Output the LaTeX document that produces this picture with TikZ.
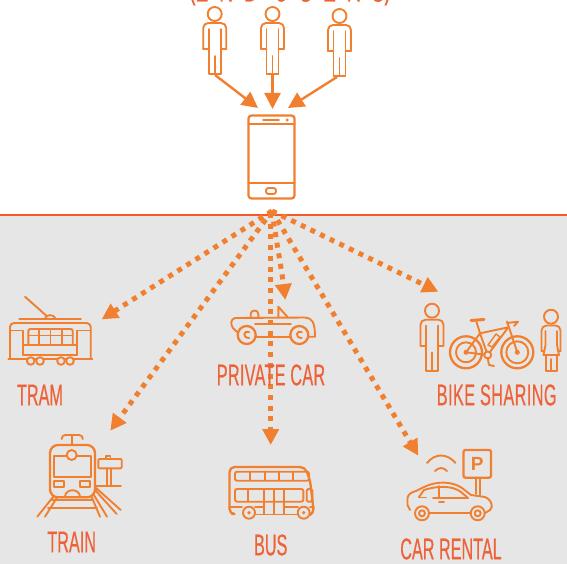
\documentclass[tikz,border=0pt]{standalone}
\usepackage{fontspec}
\usetikzlibrary{arrows.meta}
\newfontfamily\labfont[FakeStretch=0.54,FakeBold=0.4]{Liberation Sans}
\definecolor{ico}{HTML}{F08030}
\definecolor{lab}{HTML}{EE6238}
\definecolor{rule}{HTML}{F8592B}
\definecolor{band}{HTML}{E6E6E6}
\tikzset{
  icon/.style={draw=ico,line width=1.9pt,line join=round,line cap=round},
  thick icon/.style={icon,line width=2.3pt},
  solidarrow/.style={draw=ico,line width=2.4pt,-{Triangle[length=16pt,width=16pt,fill=ico]}},
  dotarrow/.style={draw=ico,line width=5pt,dash pattern=on 5pt off 5.7pt,-{Triangle[length=16pt,width=16pt,fill=ico,sep=0pt]}},
  labeltext/.style={text=lab,font=\labfont\fontsize{30}{30}\selectfont,inner sep=0pt,anchor=center},
  person/.pic={
    \draw[icon] (0,0) circle (7);
    \draw[icon] (-6,15)--(-6,60)--(6,60)--(6,15);
    \draw[icon] (0,42)--(0,60);
    \draw[icon,rounded corners=5pt] (-11.5,35)--(-11.5,9)--(11.5,9)--(11.5,35);
    \draw[icon] (-11.5,35)--(-6,35) (11.5,35)--(6,35);
  },
  wheel/.pic={
    \draw[icon,fill=band] (0,0) circle (7);
    \draw[icon] (0,0) circle (3);
  }
}
\begin{document}
\begin{tikzpicture}[x=1pt,y=-1pt]
\useasboundingbox (0,0) rectangle (567,564);
\begin{scope}
\clip (0,0) rectangle (567,564);
\fill[band] (0,214.5) rectangle (567,564);
\draw[rule,line width=2pt] (0,214.5)--(567,214.5);

% title, cut by the top edge
\node[text=lab,font=\labfont\fontsize{36}{36}\selectfont,inner sep=0pt,anchor=base] (title) at (290,1.5) {\addfontfeature{LetterSpace=30}\raisebox{3.5pt}{(}END USERS\raisebox{3.5pt}{)}};

% users
\pic (u1) at (214.7,14) {person};
\pic (u2) at (272.5,14) {person};
\pic (u3) at (339.5,16) {person};
\coordinate (u1f) at (215,75);
\coordinate (u2f) at (272.5,75);
\coordinate (u3f) at (337,77);
\coordinate (p1) at (258,108);
\coordinate (p2) at (272.5,109);
\coordinate (p3) at (288,108);
\draw[solidarrow] (u1f)--(p1);
\draw[solidarrow] (u2f)--(p2);
\draw[solidarrow] (u3f)--(p3);

% phone
\draw[thick icon,rounded corners=3pt] (248.5,115.5) rectangle (294.5,198.5);
\draw[thick icon] (248.5,124)--(294.5,124) (248.5,183)--(294.5,183);
\draw[icon] (263,120)--(279,120);
\fill[ico] (287.3,120) circle (1.6);
\draw[icon,rounded corners=2.5pt] (266,188)rectangle(276,194);

% dotted connectors
\coordinate (hub) at (272,211);
\coordinate (tTram) at (101.7,319.3);
\coordinate (tTrain) at (110.3,430.7);
\coordinate (tCar) at (285.3,300);
\coordinate (tBus) at (270.7,445);
\coordinate (tRent) at (418.3,455.7);
\coordinate (tBike) at (438.3,291.7);
\draw[dotarrow] (hub)--(tTram);
\draw[dotarrow] (hub)--(tTrain);
\draw[dotarrow] (hub) .. controls (276,240) and (281,265) .. (tCar);
\draw[dotarrow] (270.7,213)--(tBus);
\draw[dotarrow] (hub)--(tRent);
\draw[dotarrow] (hub)--(tBike);

% tram
\draw[icon] (25,296.7)--(46.7,316);
\draw[icon] (45,318.5) .. controls (46,314) and (54,314) .. (55.5,318.5);
\draw[icon] (19.3,319.3)--(81,319.3);
\draw[icon,rounded corners=4pt] (10,358)--(10,323)--(90.7,323)--(90.7,358);
\draw[icon] (8.3,359.3)--(92.3,359.3);
\draw[icon] (10,330.5)--(23,330.5)--(23,355) (90.7,330.5)--(77,330.5)--(77,355);
\draw[icon] (23,345)--(77,345) (23,355)--(77,355);
\draw[icon,rounded corners=2pt] (28.3,345)--(28.3,329)--(72.7,329)--(72.7,345);
\draw[icon] (28.3,335.5)--(72.7,335.5);
\foreach \x in {39.4,50.5,61.6} \draw[icon] (\x,329)--(\x,345);
\foreach \x in {30.7,40,61,70} \draw[icon,fill=band] (\x,361) circle (3.8);

% train
\draw[thick icon,rounded corners=8pt] (50,445) rectangle (95,497.3);
\draw[icon,rounded corners=3.5pt] (61.7,439)--(61.7,435)--(82.7,435)--(82.7,439);
\draw[icon] (71.7,435)--(71.7,444);
\draw[icon] (67,455.7)--(54.3,455.7)--(54.3,476.7)--(90.7,476.7)--(90.7,455.7)--(76.5,455.7);
\draw[icon] (71.7,455) circle (5);
\draw[icon] (54.3,481) rectangle (64,486.7) (80,481) rectangle (90,486.7);
\draw[icon] (65,497) .. controls (65,488) and (80,488) .. (80,497);
\draw[icon] (53.3,496.7)--(37.3,516.7) (56.7,498)--(45,516.7) (91.7,497)--(100,516.7) (93.3,494)--(107,516.7) (95,490)--(116.7,514) (95,487)--(120.7,510);
\draw[icon] (52,500)--(93,500) (48,507.7)--(97,507.7);
\draw[icon,rounded corners=1pt] (98.3,459) rectangle (121.7,468.3);
\draw[icon] (106.7,468.3)--(106.7,485.7) (110.7,468.3)--(110.7,485.7);
\draw[icon] (106,459)--(106,456)--(110.5,456)--(110.5,459);
\draw[icon] (95,485.7)--(121,485.7);

% private car
\draw[icon] (237,332)--(233,328) .. controls (230,324) and (231,319) .. (235,318)--(305,317.5) .. controls (312,318) and (315,322) .. (315,336.7)--(309,336.7);
\draw[icon] (256,336.7)--(290,336.7);
\draw[icon] (255,324.3)--(291,324.3);
\draw[icon] (278.3,316.7)--(278.3,306.7)--(287.3,316.7);
\draw[icon,rounded corners=3.5pt] (250.7,317)--(250.7,310.5)--(258.3,310.5)--(258.3,317);
\foreach \x in {246.7,299.3} {
  \draw[thick icon,fill=band] (\x,335) circle (9);
  \draw[icon] (\x+2.5,332) .. controls (\x-3,329.5) and (\x-5,338) .. (\x+2.5,338);
}

% bus
\draw[thick icon,rounded corners=5pt] (232,514)--(229.5,514)--(229.5,467)--(305,467)--(310,480)--(314,514)--(311,514.5);
\draw[icon] (256,514.5)--(297,514.5);
\draw[icon,rounded corners=2pt] (235,471.7) rectangle (309,480.7);
\foreach \x in {250,265,279.3,293.3} \draw[icon] (\x,471.7)--(\x,480.7);
\draw[icon,rounded corners=2pt] (235,489) rectangle (303.3,501.7);
\draw[icon] (248.3,489)--(248.3,501.7);
\draw[icon] (264.3,489)--(264.3,514) (284,489)--(284,514) (274,489)--(274,514);
\draw[icon,rounded corners=1.5pt] (306.7,489) rectangle (312.3,501.7);
\draw[icon] (229.5,507.3)--(242,507.3) (255,507.3)--(264.3,507.3) (284,507.3)--(298,507.3) (310,507.3)--(314,507.3);
\foreach \x in {249,303.7} {
  \draw[icon,fill=band] (\x,512.7) circle (6);
  \fill[ico] (\x,512.7) circle (1.8);
}

% bike sharing
\pic (man) at (432,310.7) {person};
\draw[icon] (551,316.7) circle (7);
\draw[icon] (545.7,355)--(545.7,370.7)--(556.7,370.7)--(556.7,355) (551.2,359)--(551.2,370.7);
\draw[icon,rounded corners=5pt] (541.5,351)--(541.5,325.5)--(560.5,325.5)--(560.5,351);
\draw[icon] (541.5,351)--(544,351) (560.5,351)--(558,351);
\draw[icon] (545.5,331)--(545.5,345)--(543.5,355)--(559,355)--(557,345)--(557,331);
\foreach \x/\r in {466/10,517.3/11} {
  \draw[thick icon] (\x,352.3) circle (16);
  \draw[icon] (\x,352.3) circle (\r);
}
\fill[ico] (466,352.3) circle (2.5) (517.3,352.3) circle (2.5);
\draw[icon] (466,352.3)--(487.7,355)--(480,333.3)--(466,352.3);
\draw[icon] (480,333.3)--(508.3,327.3)--(487.7,355);
\draw[icon] (517.3,352.3)--(507,321.5);
\draw[icon] (480,333.3)--(476.5,322);
\draw[icon,line width=3pt] (471,320.5)--(484,319.5);
\draw[icon] (507,323)--(518,321.7)--(514,326);
\draw[icon,line width=1.4pt] (488,345)--(496,334)--(500,337)--(492,347)--cycle;
\draw[icon,fill=band] (487.7,355) circle (3.5);
\draw[icon] (487.7,358)--(489,365)--(494,366);

% car rental
\draw[icon] (410,510)--(407.5,505)--(407.5,498) .. controls (408,494) and (412,492) .. (416,491)--(424,487) .. controls (436,481) and (452,481) .. (462,488)--(471,495)--(485,497) .. controls (490,499) and (492,503) .. (491.7,507)--(490,510)--(485,513);
\draw[icon] (429,513.3)--(470,513.3);
\draw[icon] (419,497)--(424,490) .. controls (436,486) and (452,485) .. (461,492)--(468,498)--(433,498);
\draw[icon] (419,497.5)--(426,497.5) (439,486)--(439,497.5);
\draw[icon] (439,502)--(444,502);
\foreach \x in {422,477.7} \pic at (\x,513.3) {wheel};
\draw[thick icon,rounded corners=2pt] (463.5,450) rectangle (491,477.7);
\draw[icon] (475.7,477.7)--(475.7,494) (480,477.7)--(480,495);
\node[text=ico,font=\fontspec{Liberation Sans}\bfseries\fontsize{19}{19}\selectfont,inner sep=0pt] (parking) at (477.3,463.8) {P};
\draw[icon] (427,463) .. controls (435,453) and (447,453) .. (455.5,463);
\draw[icon] (435,471) .. controls (439,467) and (443,467) .. (447,471);

% labels
\node[labeltext] (ltram) at (40,395) {TRAM};
\node[labeltext] (ltrain) at (71.7,542) {TRAIN};
\node[labeltext] (lcar) at (271,375) {\addfontfeature{LetterSpace=1}PRIVATE CAR};
\node[labeltext] (lbus) at (270.7,545) {BUS};
\node[labeltext] (lbike) at (496.7,395) {\addfontfeature{LetterSpace=1.5}BIKE SHARING};
\node[labeltext] (lrent) at (451,549) {CAR RENTAL};
\end{scope}
\end{tikzpicture}
\end{document}
